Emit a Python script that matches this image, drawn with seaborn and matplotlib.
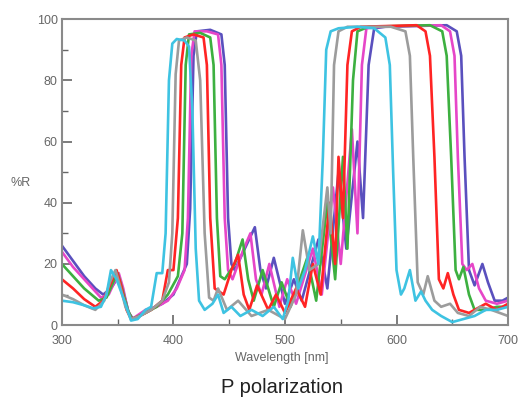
import numpy as np
import pandas as pd
import matplotlib
matplotlib.use("Agg")
import matplotlib.pyplot as plt
from matplotlib.ticker import MultipleLocator
import seaborn as sns

# ==========================================
# Data: reflectance curves (wavelength nm, %R)
# ==========================================
cyan_pts = [(300, 8), (310, 7.5), (320, 6.5), (328, 5.5), (335, 6), (340, 10), (344, 18),
            (349, 15), (356, 8), (362, 1.5), (368, 2), (375, 5), (380, 6), (385, 17),
            (390, 17), (393, 30), (396, 80), (399, 92), (403, 93.5), (410, 93), (414, 91),
            (417, 70), (420, 25), (423, 8), (428, 5), (435, 7), (440, 10), (445, 4),
            (452, 6), (460, 3), (470, 5), (480, 3), (490, 6), (498, 2), (503, 8), (507, 22),
            (512, 12), (518, 18), (525, 29), (530, 20), (534, 55), (537, 90), (541, 96),
            (548, 97), (565, 97.5), (580, 97), (590, 94), (594, 85), (597, 50), (600, 18),
            (604, 10), (607, 12), (612, 18), (617, 8), (622, 11), (626, 8), (632, 5),
            (640, 3), (650, 1), (660, 2), (670, 3), (680, 5), (690, 5), (700, 6)]

gray_pts = [(300, 10), (310, 8.5), (320, 6.5), (330, 5), (338, 8), (343, 14), (348, 18),
            (352, 13), (357, 6), (362, 2), (370, 3), (380, 5), (390, 8), (396, 14),
            (399, 30), (402, 82), (405, 93), (412, 94), (420, 93), (424, 80), (428, 30),
            (432, 9), (436, 8), (440, 12), (448, 5), (458, 8), (470, 3), (485, 5),
            (500, 2), (510, 10), (516, 31), (522, 18), (530, 20), (538, 45), (541, 30),
            (544, 85), (548, 96), (556, 97.5), (595, 97.5), (608, 96), (612, 88),
            (615, 55), (619, 14), (624, 10), (628, 16), (634, 8), (640, 6), (648, 7),
            (655, 4), (665, 3), (675, 6), (685, 5), (700, 3)]

red_pts = [(300, 15), (310, 12), (320, 8.5), (330, 6), (337, 8), (343, 13), (349, 18),
           (353, 13), (358, 5), (362, 2), (370, 3), (380, 5), (390, 8), (395, 18),
           (400, 18), (404, 35), (407, 85), (410, 94), (418, 95), (427, 94), (430, 85),
           (433, 35), (437, 12), (445, 10), (452, 18), (458, 23), (463, 10), (468, 5),
           (475, 13), (485, 5), (492, 10), (500, 4), (510, 12), (518, 6), (525, 20),
           (532, 10), (540, 40), (545, 20), (548, 55), (552, 35), (556, 85), (560, 96),
           (568, 97.5), (618, 98), (626, 96), (630, 88), (634, 55), (638, 15),
           (642, 12), (646, 17), (651, 10), (656, 5), (665, 4), (680, 7), (690, 5), (700, 7)]

green_pts = [(300, 20), (310, 16), (320, 12), (333, 8), (340, 9), (346, 14), (350, 17),
             (354, 12), (359, 5), (363, 2), (375, 4), (385, 6), (395, 10), (404, 16),
             (408, 30), (411, 85), (414, 95), (424, 95.5), (433, 94), (436, 85),
             (439, 35), (442, 16), (446, 15), (455, 20), (462, 28), (467, 15), (472, 8),
             (480, 18), (490, 6), (497, 14), (505, 6), (520, 22), (528, 8), (538, 40),
             (545, 15), (552, 55), (556, 25), (561, 80), (565, 96), (575, 97.5),
             (630, 98), (641, 96), (645, 88), (649, 55), (653, 18), (656, 15), (660, 19),
             (665, 10), (670, 5), (680, 5), (690, 6), (700, 6)]

magenta_pts = [(300, 24), (310, 19), (320, 15), (335, 9), (342, 10), (347, 14), (351, 17),
               (355, 12), (359, 5), (363, 2), (375, 5), (385, 6), (395, 8), (403, 12),
               (410, 18), (413, 35), (416, 88), (419, 96), (430, 96), (440, 95),
               (443, 85), (446, 35), (449, 18), (453, 15), (462, 24), (469, 30),
               (474, 15), (479, 10), (486, 20), (495, 6), (502, 15), (510, 7), (525, 25),
               (533, 10), (543, 45), (550, 20), (560, 64), (565, 30), (569, 85),
               (573, 97), (585, 97.5), (640, 98), (648, 96), (652, 88), (655, 55),
               (659, 20), (663, 18), (668, 20), (674, 12), (680, 8), (690, 7), (700, 8)]

blue_pts = [(300, 26), (310, 21), (320, 16), (330, 12), (337, 10), (344, 12), (351, 16),
            (355, 11), (360, 4), (364, 2), (378, 5), (390, 7), (400, 10), (412, 20),
            (415, 38), (418, 88), (421, 96), (433, 96.5), (443, 95), (446, 85),
            (449, 35), (452, 20), (455, 18), (464, 25), (473, 32), (478, 18), (483, 12),
            (490, 22), (500, 7), (508, 15), (515, 8), (530, 28), (538, 12), (548, 50),
            (555, 25), (565, 60), (570, 35), (575, 85), (580, 97), (590, 97.5),
            (645, 98), (654, 96), (658, 88), (661, 55), (665, 18), (670, 13), (677, 20),
            (682, 14), (688, 8), (695, 8), (700, 9)]

series_names = ["cyan", "gray", "red", "green", "magenta", "blue"]
series_pts = [cyan_pts, gray_pts, red_pts, green_pts, magenta_pts, blue_pts]
series_colors = ["#3EC3E2", "#9C9C9C", "#FF2424", "#3DB040", "#E646C8", "#5A50BE"]

# ==========================================
# Plot
# ==========================================
sns.set_style("white")
plt.rcParams["font.family"] = ["Liberation Sans", "DejaVu Sans"]

fig = plt.figure(figsize=(5.2, 3.98), dpi=100)
ax = fig.add_axes([0.119, 0.183, 0.858, 0.769])

# draw back to front: blue first, cyan last on top
for name, pts, col in reversed(list(zip(series_names, series_pts, series_colors))):
    df = pd.DataFrame(pts, columns=["wl", "R"])
    sns.lineplot(data=df, x="wl", y="R", color=col, linewidth=1.9,
                 estimator=None, sort=False, ax=ax)

ax.set_xlim(300, 700)
ax.set_ylim(0, 100)
ax.xaxis.set_major_locator(MultipleLocator(100))
ax.xaxis.set_minor_locator(MultipleLocator(50))
ax.yaxis.set_major_locator(MultipleLocator(20))
ax.yaxis.set_minor_locator(MultipleLocator(10))

for s in ax.spines.values():
    s.set_color("#8A8A8A")
    s.set_linewidth(1.5)

ax.tick_params(axis="both", which="major", direction="in", length=7, width=1.2,
               color="#666666", labelsize=9, labelcolor="#666666",
               bottom=True, left=True, top=False, right=False)
ax.tick_params(axis="x", which="major", pad=7)
ax.tick_params(axis="y", which="major", pad=3)
ax.tick_params(axis="both", which="minor", direction="in", length=4, width=1.0,
               color="#666666", bottom=True, left=True, top=False, right=False)

ax.set_xlabel("")
ax.set_ylabel("")
fig.text(0.542, 0.100, "Wavelength [nm]", ha="center", va="center",
         fontsize=9, color="#666666")
fig.text(0.040, 0.540, "%R", ha="center", va="center",
         fontsize=9, color="#666666")
fig.text(0.542, 0.027, "P polarization", ha="center", va="center",
         fontsize=14.5, color="#222222")

plt.savefig("out.png", dpi=100)
